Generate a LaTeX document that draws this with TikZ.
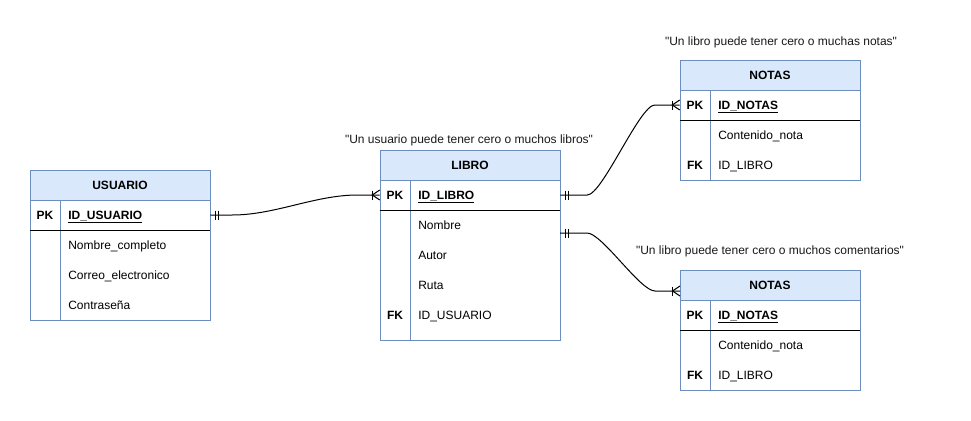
\documentclass[tikz,border=0pt]{standalone}
\usepackage{fontspec}
\setmainfont{Liberation Sans}[Ligatures=TeXOff]
\usetikzlibrary{calc}
\definecolor{hd}{HTML}{DAE8FC}
\definecolor{bd}{HTML}{6C8EBF}
\newcommand\erOne[2]{\draw[conn] ($(#1)+(#2*5,-4.5)$) -- ++(0,9); \draw[conn] ($(#1)+(#2*8.5,-4.5)$) -- ++(0,9);}
\newcommand\erMany[2]{\draw[conn] ($(#1)+(#2*7.5,-4.5)$) -- ++(0,9); \draw[conn] ($(#1)+(0,-5)$) -- ($(#1)+(#2*7.5,0)$) -- ($(#1)+(0,5)$);}
\begin{document}
\begin{tikzpicture}[x=0.75pt,y=-0.75pt,
  font=\fontsize{9}{11}\selectfont,
  tblbox/.style={draw=bd, line width=0.75pt, fill=white, minimum width=135pt, inner sep=0pt, rectangle},
  hdrbox/.style={draw=bd, fill=hd, line width=0.75pt, minimum width=135pt, minimum height=22.5pt, inner sep=0pt, text height=6.5pt, text depth=0pt, font=\fontsize{9}{11}\selectfont\bfseries},
  rowbox/.style={minimum width=135pt, minimum height=22.5pt, inner sep=0pt},
  keytxt/.style={inner sep=0pt, text height=6.5pt, text depth=0pt, font=\fontsize{9}{11}\selectfont\bfseries},
  fldtxt/.style={anchor=west, inner sep=0pt, text height=6.5pt, text depth=0pt},
  idtxt/.style={fldtxt, font=\fontsize{9}{11}\selectfont\bfseries},
  sepline/.style={black, line width=0.75pt},
  divline/.style={bd, line width=0.75pt},
  conn/.style={black, line width=0.75pt},
  quote/.style={inner sep=0pt, text=black!90, text height=6.5pt, text depth=1.5pt}]
\useasboundingbox[fill=white] (0,0) rectangle (971,421);

% ---------- USUARIO ----------
\node[tblbox, minimum height=112.5pt] (usuario) at (120,245) {};
\node[hdrbox] (usuario-h) at (120,185) {USUARIO};
\node[rowbox] (usuario-pk) at (120,215) {};
\draw[divline] (60,200) -- (60,320);
\draw[sepline] (usuario-pk.south west) -- (usuario-pk.south east);
\node[keytxt] (usuario-pkk) at (45,215) {PK};
\node[idtxt] (usuario-id) at (68,215) {\underline{ID\_USUARIO}};
\node[fldtxt] (usuario-f1) at (68,245) {Nombre\_completo};
\node[fldtxt] (usuario-f2) at (68,275) {Correo\_electronico};
\node[fldtxt] (usuario-f3) at (68,305) {Contraseña};

% ---------- LIBRO ----------
\node[tblbox, minimum height=142.5pt] (libro) at (470,245) {};
\node[hdrbox] (libro-h) at (470,165) {LIBRO};
\node[rowbox] (libro-pk) at (470,195) {};
\draw[divline] (410,180) -- (410,340);
\draw[sepline] (libro-pk.south west) -- (libro-pk.south east);
\node[keytxt] (libro-pkk) at (395,195) {PK};
\node[idtxt] (libro-id) at (418,195) {\underline{ID\_LIBRO}};
\node[fldtxt] (libro-f1) at (418,225) {Nombre};
\node[fldtxt] (libro-f2) at (418,255) {Autor};
\node[fldtxt] (libro-f3) at (418,285) {Ruta};
\node[keytxt] (libro-fkk) at (395,315) {FK};
\node[fldtxt] (libro-f4) at (418,315) {ID\_USUARIO};
\coordinate (libro-out2) at (560,233);

% ---------- NOTAS (1) ----------
\node[tblbox, minimum height=90pt] (notas1) at (770,120) {};
\node[hdrbox] (notas1-h) at (770,75) {NOTAS};
\node[rowbox] (notas1-pk) at (770,105) {};
\draw[divline] (710,90) -- (710,180);
\draw[sepline] (notas1-pk.south west) -- (notas1-pk.south east);
\node[keytxt] (notas1-pkk) at (695,105) {PK};
\node[idtxt] (notas1-id) at (718,105) {\underline{ID\_NOTAS}};
\node[fldtxt] (notas1-f1) at (718,135) {Contenido\_nota};
\node[keytxt] (notas1-fkk) at (695,165) {FK};
\node[fldtxt] (notas1-f2) at (718,165) {ID\_LIBRO};

% ---------- NOTAS (2) ----------
\node[tblbox, minimum height=90pt] (notas2) at (770,330) {};
\node[hdrbox] (notas2-h) at (770,285) {NOTAS};
\node[rowbox] (notas2-pk) at (770,315) {};
\draw[divline] (710,300) -- (710,390);
\draw[sepline] (notas2-pk.south west) -- (notas2-pk.south east);
\node[keytxt] (notas2-pkk) at (695,315) {PK};
\node[idtxt] (notas2-id) at (718,315) {\underline{ID\_NOTAS}};
\node[fldtxt] (notas2-f1) at (718,345) {Contenido\_nota};
\node[keytxt] (notas2-fkk) at (695,375) {FK};
\node[fldtxt] (notas2-f2) at (718,375) {ID\_LIBRO};
\coordinate (notas2-in) at (680,291);

% ---------- labels ----------
\node[quote] (q1) at (469,140) {"Un usuario puede tener cero o muchos libros"};
\node[quote] (q2) at (781,42) {"Un libro puede tener cero o muchas notas"};
\node[quote] (q3) at (770,251) {"Un libro puede tener cero o muchos comentarios"};

% ---------- connectors ----------
\draw[conn] (usuario-pk.east) -- ($(usuario-pk.east)+(22,0)$)
  .. controls ($(usuario-pk.east)+(65,0)$) and ($(libro-pk.west)+(-65,0)$) ..
  ($(libro-pk.west)+(-22,0)$) -- (libro-pk.west);
\erOne{usuario-pk.east}{1}
\erMany{libro-pk.west}{-1}

\draw[conn] (libro-pk.east) -- ($(libro-pk.east)+(27,0)$)
  .. controls ($(libro-pk.east)+(42,0)$) and ($(notas1-pk.west)+(-40,0)$) ..
  ($(notas1-pk.west)+(-25,0)$) -- (notas1-pk.west);
\erOne{libro-pk.east}{1}
\erMany{notas1-pk.west}{-1}

\draw[conn] (libro-out2) -- ($(libro-out2)+(27,0)$)
  .. controls ($(libro-out2)+(42,0)$) and ($(notas2-in)+(-40,0)$) ..
  ($(notas2-in)+(-25,0)$) -- (notas2-in);
\erOne{libro-out2}{1}
\erMany{notas2-in}{-1}
\end{tikzpicture}
\end{document}
